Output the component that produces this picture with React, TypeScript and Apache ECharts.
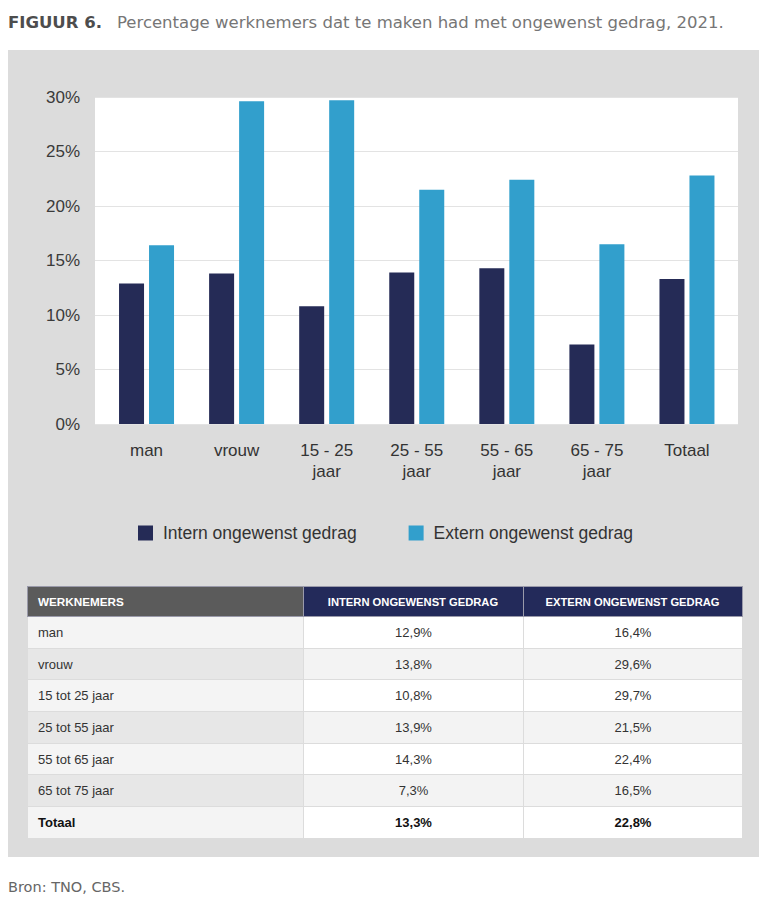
import React, { useEffect, useRef } from "react";
import * as echarts from "echarts";

const categories = ["man", "vrouw", "15 - 25\njaar", "25 - 55\njaar", "55 - 65\njaar", "65 - 75\njaar", "Totaal"];
const rowLabels = ["man", "vrouw", "15 tot 25 jaar", "25 tot 55 jaar", "55 tot 65 jaar", "65 tot 75 jaar", "Totaal"];
const internValues = [12.9, 13.8, 10.8, 13.9, 14.3, 7.3, 13.3];
const externValues = [16.4, 29.6, 29.7, 21.5, 22.4, 16.5, 22.8];
const seriesNames = ["Intern ongewenst gedrag", "Extern ongewenst gedrag"];
const tableHeaders = ["WERKNEMERS", "INTERN ONGEWENST GEDRAG", "EXTERN ONGEWENST GEDRAG"];
const yTicks = { min: 0, max: 30, interval: 5 };

const DARK = "#252b56";
const LIGHT = "#329fcc";
const FONT = "'Liberation Sans', Arial, sans-serif";
const WIDE = "'DejaVu Sans', 'Liberation Sans', sans-serif";

const fmt = (v: number) => v.toFixed(1).replace(".", ",") + "%";

export default function App() {
  const ref = useRef<HTMLDivElement>(null);

  useEffect(() => {
    if (!ref.current) return;
    const chart = echarts.init(ref.current, null, { renderer: "svg" });
    chart.setOption({
      animation: false,
      backgroundColor: "transparent",
      textStyle: { fontFamily: FONT },
      grid: [
        { left: 95, right: 29, top: 97, height: 327, show: true, backgroundColor: "#ffffff", borderWidth: 0 },
        { left: 101.5, right: 35, top: 97, height: 327 },
      ],
      xAxis: [
        { type: "category", gridIndex: 0, data: categories, show: false },
        {
          type: "category",
          gridIndex: 1,
          data: categories,
          axisLine: { show: false },
          axisTick: { show: false },
          axisLabel: { color: "#333333", fontSize: 17, margin: 16, lineHeight: 21, fontFamily: FONT, interval: 0 },
        },
      ],
      yAxis: [
        {
          type: "value",
          gridIndex: 0,
          min: yTicks.min,
          max: yTicks.max,
          interval: yTicks.interval,
          axisLine: { show: false },
          axisTick: { show: false },
          splitLine: { lineStyle: { color: "#e3e3e3", width: 1 } },
          axisLabel: { formatter: "{value}%", color: "#3a3a3a", fontSize: 17, margin: 15, fontFamily: FONT },
        },
        {
          type: "value",
          gridIndex: 1,
          min: yTicks.min,
          max: yTicks.max,
          interval: yTicks.interval,
          show: false,
          splitLine: { show: false },
        },
      ],
      legend: {
        left: 133,
        top: 519,
        itemWidth: 15,
        itemHeight: 15,
        itemGap: 52,
        icon: "rect",
        textStyle: { color: "#333333", fontSize: 17.5, fontFamily: FONT, padding: [0, 0, 0, 5] },
        data: seriesNames,
      },
      series: [
        {
          name: seriesNames[0],
          type: "bar",
          xAxisIndex: 1,
          yAxisIndex: 1,
          data: internValues,
          barWidth: 25,
          barGap: "20%",
          itemStyle: { color: DARK },
        },
        {
          name: seriesNames[1],
          type: "bar",
          xAxisIndex: 1,
          yAxisIndex: 1,
          data: externValues,
          barWidth: 25,
          barGap: "20%",
          itemStyle: { color: LIGHT },
        },
      ],
    });
    return () => chart.dispose();
  }, []);

  const rowH = 31.7;
  const cellBorder = "1px solid #dcdcdc";

  return (
    <div style={{ position: "absolute", left: 0, top: 0, width: 767, height: 902, background: "#ffffff", overflow: "hidden" }}>
      <div
        style={{
          position: "absolute",
          left: 8,
          top: 12,
          fontFamily: WIDE,
          fontSize: 16.5,
          lineHeight: "22px",
          whiteSpace: "nowrap",
        }}
      >
        <span style={{ fontWeight: "bold", color: "#4d4d4d" }}>FIGUUR 6.</span>
        <span style={{ color: "#767676", marginLeft: 15 }}>
          Percentage werknemers dat te maken had met ongewenst gedrag, 2021.
        </span>
      </div>
      <div style={{ position: "absolute", left: 8, top: 50, width: 751, height: 807, background: "#dcdcdc" }} />
      <div ref={ref} style={{ position: "absolute", left: 0, top: 0, width: 767, height: 575 }} />
      <table
        style={{
          position: "absolute",
          left: 27,
          top: 586,
          width: 715,
          borderCollapse: "collapse",
          fontFamily: FONT,
          tableLayout: "fixed",
        }}
      >
        <colgroup>
          <col style={{ width: 276 }} />
          <col style={{ width: 220 }} />
          <col style={{ width: 219 }} />
        </colgroup>
        <thead>
          <tr style={{ height: 30 }}>
            {tableHeaders.map((h, i) => (
              <th
                key={h}
                style={{
                  background: i === 0 ? "#5b5b5b" : "#232a5a",
                  color: "#ffffff",
                  fontSize: i === 0 ? 11.7 : 11.2,
                  fontWeight: "bold",
                  textAlign: i === 0 ? "left" : "center",
                  paddingLeft: i === 0 ? 10 : 0,
                  paddingTop: 0,
                  paddingBottom: 0,
                  border: "1px solid #9a9aaa",
                }}
              >
                {h}
              </th>
            ))}
          </tr>
        </thead>
        <tbody>
          {rowLabels.map((label, r) => {
            const even = r % 2 === 1;
            const bold = r === rowLabels.length - 1;
            const tdBase: React.CSSProperties = {
              fontSize: 13,
              color: bold ? "#111111" : "#333333",
              fontWeight: bold ? "bold" : "normal",
              border: cellBorder,
              padding: 0,
            };
            return (
              <tr key={label} style={{ height: rowH }}>
                <td style={{ ...tdBase, paddingLeft: 10, background: even ? "#e7e7e7" : "#f4f4f4" }}>{label}</td>
                <td style={{ ...tdBase, textAlign: "center", background: even ? "#f3f3f3" : "#ffffff" }}>
                  {fmt(internValues[r])}
                </td>
                <td style={{ ...tdBase, textAlign: "center", background: even ? "#f3f3f3" : "#ffffff" }}>
                  {fmt(externValues[r])}
                </td>
              </tr>
            );
          })}
        </tbody>
      </table>
      <div
        style={{
          position: "absolute",
          left: 8,
          top: 878,
          fontFamily: WIDE,
          fontSize: 14.5,
          color: "#666666",
          lineHeight: "18px",
        }}
      >
        Bron: TNO, CBS.
      </div>
    </div>
  );
}
